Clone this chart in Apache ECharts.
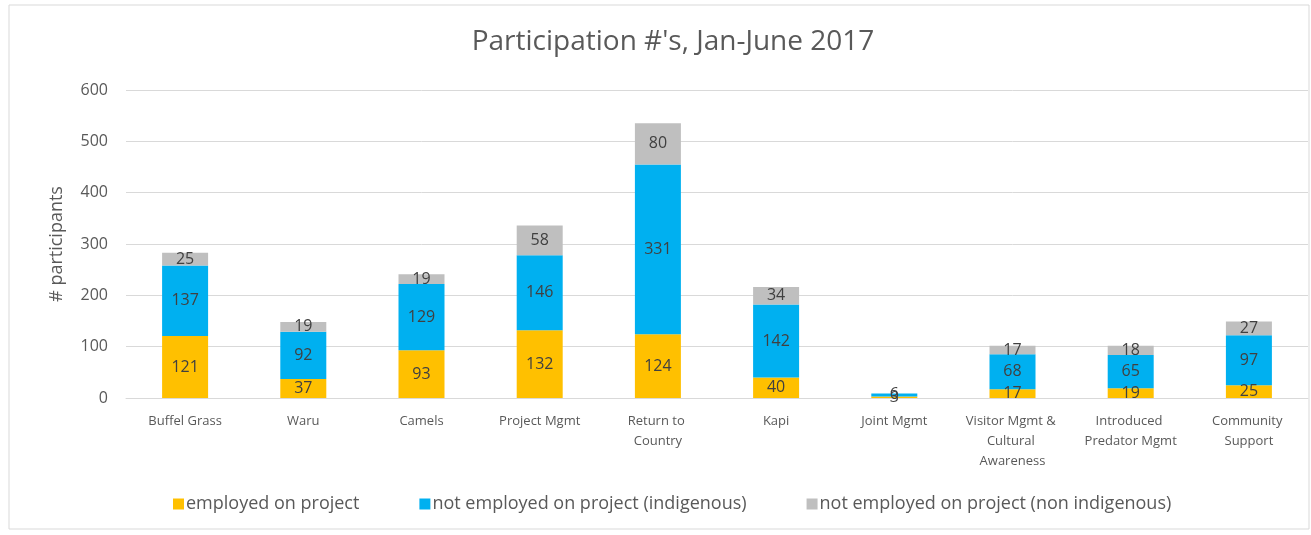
<!DOCTYPE html>
<html>
<head>
<meta charset="utf-8">
<script src="https://cdn.jsdelivr.net/npm/echarts@6/dist/echarts.min.js"></script>
<style>
html,body{margin:0;padding:0;background:#fff;}
#chart{width:1311px;height:535px;}
</style>
</head>
<body>
<div id="chart"></div>
<script>
var categories = ['Buffel Grass','Waru','Camels','Project Mgmt','Return to Country','Kapi','Joint Mgmt','Visitor Mgmt & Cultural Awareness','Introduced Predator Mgmt','Community Support'];
var employed = [121, 37, 93, 132, 124, 40, 3, 17, 19, 25];
var notEmployedIndigenous = [137, 92, 129, 146, 331, 142, 6, 68, 65, 97];
var notEmployedNonIndigenous = [25, 19, 19, 58, 80, 34, 0, 17, 18, 27];
var seriesNames = ['employed on project','not employed on project (indigenous)','not employed on project (non indigenous)'];
var yTicks = [0, 100, 200, 300, 400, 500, 600];

var FONT = '"Open Sans", "Noto Sans", sans-serif';
var chart = echarts.init(document.getElementById('chart'));
function lbl(){
  return {show:true, position:'inside', color:'#404040', fontSize:16, fontFamily:FONT,
    formatter:function(p){return p.value === 0 ? '' : p.value;}};
}
chart.setOption({
  animation:false,
  backgroundColor:'#fff',
  graphic:[{type:'rect', shape:{x:9,y:5,width:1300,height:524}, style:{fill:'none', stroke:'#D9D9D9', lineWidth:1}, silent:true}],
  title:{text:"Participation #'s, Jan-June 2017", left:'668', top:23, textAlign:'center',
    textStyle:{fontSize:28, fontWeight:'normal', color:'#595959', fontFamily:FONT}},
  legend:{left:168, top:490, itemWidth:11, itemHeight:11, itemGap:60, icon:'rect',
    textStyle:{fontSize:18, color:'#595959', fontFamily:FONT, padding:[0,0,0,-3]},
    data:seriesNames},
  grid:{left:126, right:3, top:90, bottom:137, containLabel:false},
  xAxis:{type:'category', data:categories,
    axisLine:{lineStyle:{color:'#D9D9D9'}}, axisTick:{show:false},
    axisLabel:{color:'#595959', fontSize:13, fontFamily:FONT, margin:13, interval:0,
      width:108, overflow:'break', lineHeight:20}},
  yAxis:{type:'value', min:yTicks[0], max:yTicks[yTicks.length-1], interval:100,
    name:'# participants', nameLocation:'middle', nameGap:60,
    nameTextStyle:{color:'#595959', fontSize:18, fontFamily:FONT},
    axisLine:{show:false}, axisTick:{show:false},
    axisLabel:{color:'#595959', fontSize:16, fontFamily:FONT, margin:18},
    splitLine:{lineStyle:{color:'#D9D9D9'}}},
  series:[
    {name:seriesNames[0], type:'bar', stack:'a', data:employed, barWidth:46, itemStyle:{color:'#FFC000'}, label:lbl()},
    {name:seriesNames[1], type:'bar', stack:'a', data:notEmployedIndigenous, barWidth:46, itemStyle:{color:'#00B0F0'}, label:lbl()},
    {name:seriesNames[2], type:'bar', stack:'a', data:notEmployedNonIndigenous, barWidth:46, itemStyle:{color:'#BFBFBF'}, label:lbl()}
  ]
});
</script>
</body>
</html>
